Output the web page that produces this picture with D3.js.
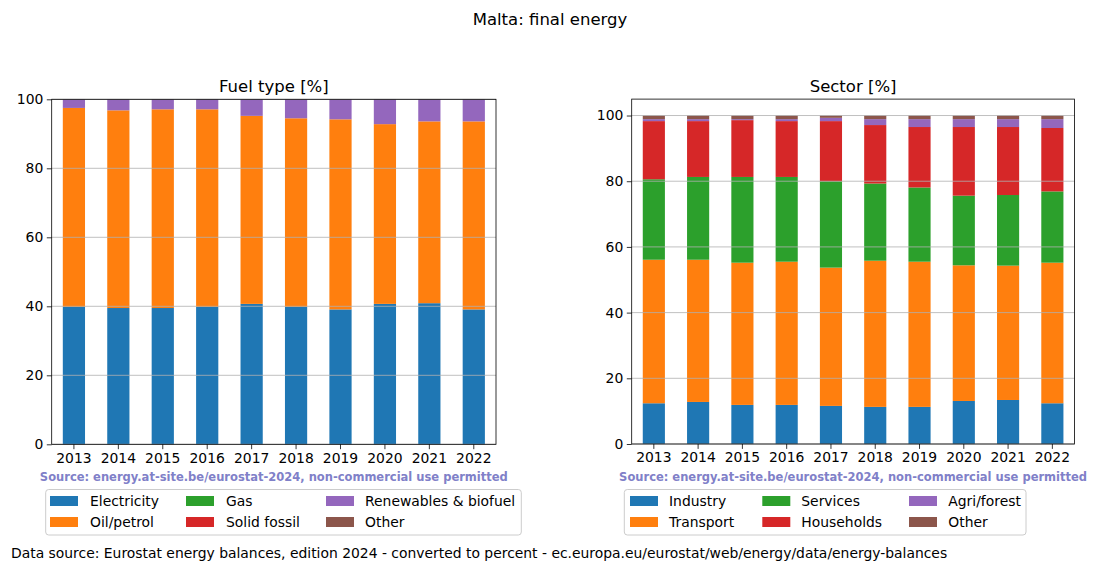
<!DOCTYPE html>
<html><head><meta charset="utf-8">
<script src="https://cdn.jsdelivr.net/npm/d3@7"></script>
<style>body{margin:0;background:#fff}svg{font-family:"DejaVu Sans",sans-serif}</style>
</head><body>
<svg id="c" width="1100" height="572"></svg>
<script>
const years = ["2013","2014","2015","2016","2017","2018","2019","2020","2021","2022"];
const fuelNames = ["Electricity","Oil/petrol","Gas","Solid fossil","Renewables & biofuel","Other"];
const fuelElectricity = [39.8,39.5,39.5,39.8,40.7,39.8,39.1,40.7,40.9,39.1];
const fuelOil = [57.7,57.3,57.6,57.3,54.5,54.7,55.1,52.1,52.7,54.5];
const fuelGas = [0,0,0,0,0,0,0,0,0,0];
const fuelSolid = [0,0,0,0,0,0,0,0,0,0];
const fuelRenew = [2.5,3.2,2.9,2.9,4.8,5.5,5.8,7.2,6.4,6.4];
const fuelOther = [0,0,0,0,0,0,0,0,0,0];
const sectorNames = ["Industry","Transport","Services","Households","Agri/forest","Other"];
const secIndustry = [12.4,12.8,11.9,11.9,11.6,11.3,11.3,13.1,13.4,12.4];
const secTransport = [43.7,43.3,43.3,43.6,42.1,44.5,44.2,41.3,40.9,42.8];
const secServices = [24.5,25.2,26.1,25.8,26.3,23.5,22.6,21.2,21.5,21.7];
const secHouseholds = [17.7,17.0,17.3,17.0,18.3,17.8,18.4,20.9,20.7,19.3];
const secAgri = [0.6,0.6,0.3,0.6,1.0,1.8,2.4,2.4,2.4,2.7];
const secOther = [1.1,1.1,1.1,1.1,0.7,1.1,1.1,1.1,1.1,1.1];
const yTicks = [0,20,40,60,80,100];
const colors = ["#1f77b4","#ff7f0e","#2ca02c","#d62728","#9467bd","#8c564b"];

const svg = d3.select("#c");
svg.append("text").attr("x",550).attr("y",25).attr("text-anchor","middle")
  .attr("font-size","16.5px").text("Malta: final energy");

function panel(opts){
  const {x0,x1,y0,y1,ymax,series,names,title,legend} = opts;
  const g = svg.append("g");
  const x = d3.scaleBand().domain(years).range([x0,x1]).paddingInner(0.5).paddingOuter(0.25);
  const y = d3.scaleLinear().domain([0,ymax]).range([y1,y0]);
  const rows = years.map((yr,i)=>{const o={year:yr}; names.forEach((n,k)=>o[n]=series[k][i]); return o;});
  const stack = d3.stack().keys(names)(rows);
  stack.forEach((layer,k)=>{
    g.append("g").attr("fill",colors[k]).selectAll("rect").data(layer).join("rect")
      .attr("x",d=>x(d.data.year)).attr("width",x.bandwidth())
      .attr("y",d=>y(d[1])).attr("height",d=>Math.max(0,y(d[0])-y(d[1])));
  });
  // grid on top
  g.append("g").selectAll("line").data(yTicks).join("line")
    .attr("x1",x0).attr("x2",x1).attr("y1",d=>y(d)).attr("y2",d=>y(d))
    .attr("stroke","#b0b0b0").attr("stroke-width",0.8);
  g.append("rect").attr("x",x0).attr("y",y0).attr("width",x1-x0).attr("height",y1-y0)
    .attr("fill","none").attr("stroke","#000").attr("stroke-width",0.8);
  const ya = g.append("g").attr("transform",`translate(${x0},0)`)
    .call(d3.axisLeft(y).tickValues(yTicks).tickSize(4.9).tickPadding(3.5).tickFormat(d3.format("d")));
  const xa = g.append("g").attr("transform",`translate(0,${y1})`)
    .call(d3.axisBottom(x).tickSize(4.9).tickPadding(3.5));
  [ya,xa].forEach(a=>{a.select(".domain").remove();
    a.selectAll("text").attr("font-size","13.9px").attr("font-family","DejaVu Sans").attr("fill","#000");
    a.selectAll("line").attr("stroke","#000").attr("stroke-width",0.8);});
  g.append("text").attr("x",(x0+x1)/2).attr("y",y0-7).attr("text-anchor","middle")
    .attr("font-size","16.5px").text(title);
  g.append("text").attr("x",(x0+x1)/2).attr("y",481).attr("text-anchor","middle")
    .attr("font-size","11.5px").attr("font-weight","bold").attr("fill","#8080c8")
    .text("Source: energy.at-site.be/eurostat-2024, non-commercial use permitted");
  // legend
  const L = legend;
  g.append("rect").attr("x",L.bx0).attr("y",489.5).attr("width",L.bx1-L.bx0).attr("height",45.5)
    .attr("rx",3).attr("fill","#fff").attr("fill-opacity",0.8).attr("stroke","#cccccc").attr("stroke-width",1);
  names.forEach((n,k)=>{
    const col = Math.floor(k/2), row = k%2;
    const cy = row===0?501:522;
    g.append("rect").attr("x",L.px[col]).attr("y",cy-5).attr("width",28).attr("height",10).attr("fill",colors[k]);
    g.append("text").attr("x",L.tx[col]).attr("y",cy+5).attr("font-size","13.9px").text(n);
  });
}

panel({x0:51.7,x1:496,y0:99.3,y1:444.3,ymax:100,
  series:[fuelElectricity,fuelOil,fuelGas,fuelSolid,fuelRenew,fuelOther],names:fuelNames,title:"Fuel type [%]",
  legend:{bx0:45.7,bx1:521.3,px:[50,186,326],tx:[90,226,365]}});
panel({x0:631.7,x1:1074.5,y0:99.1,y1:444,ymax:105,
  series:[secIndustry,secTransport,secServices,secHouseholds,secAgri,secOther],names:sectorNames,title:"Sector [%]",
  legend:{bx0:624.3,bx1:1026,px:[630,762.3,909],tx:[669,801.3,948.3]}});

svg.append("text").attr("x",11).attr("y",558).attr("font-size","13.9px")
  .text("Data source: Eurostat energy balances, edition 2024 - converted to percent - ec.europa.eu/eurostat/web/energy/data/energy-balances");
</script>
</body></html>
